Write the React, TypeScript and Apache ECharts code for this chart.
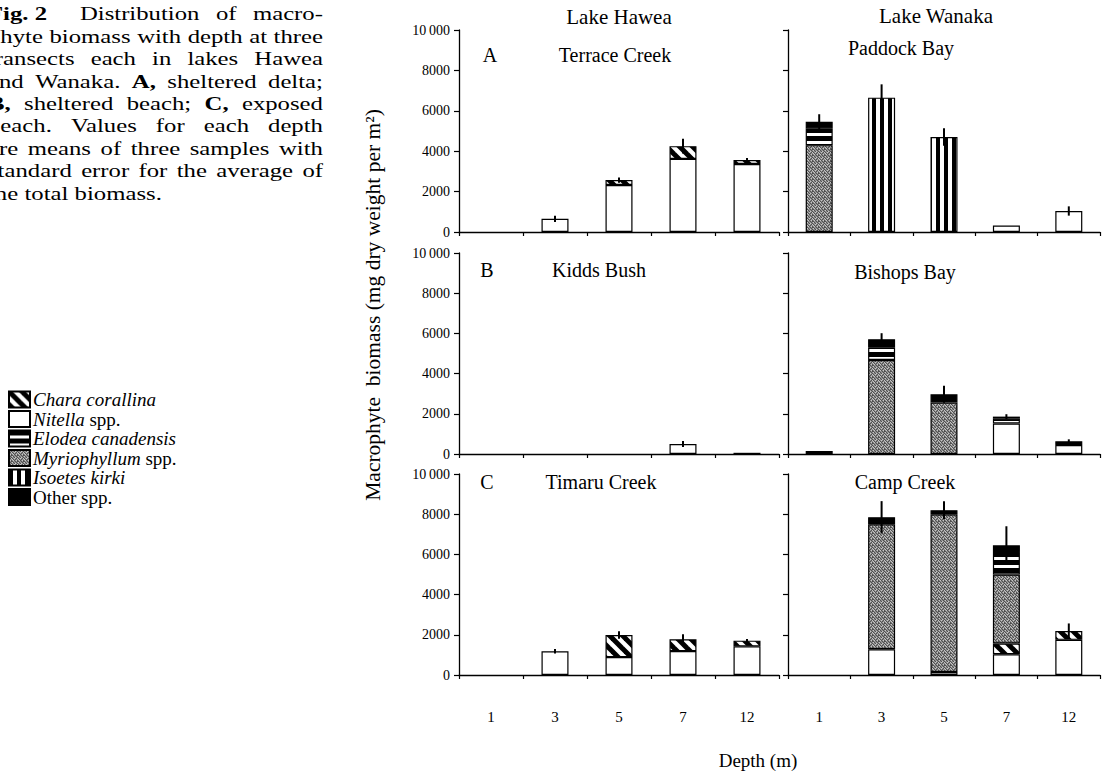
import React, { useEffect, useRef } from "react";
import * as echarts from "echarts";

// ---------- data ----------
const DEPTHS = ["1", "3", "5", "7", "12"];
const Y_MIN = 0;
const Y_MAX = 10000;
const Y_INTERVAL = 2000;

const LAKES = ["Lake Hawea", "Lake Wanaka"];
const PANEL_LETTERS = ["A", "B", "C"];
const SITES = ["Terrace Creek", "Paddock Bay", "Kidds Bush", "Bishops Bay", "Timaru Creek", "Camp Creek"];

const SPECIES = ["Chara corallina", "Nitella spp.", "Elodea canadensis", "Myriophyllum spp.", "Isoetes kirki", "Other spp."];
// stacking order, bottom to top (indices into SPECIES)
const STACK_ORDER = [1, 0, 3, 2, 4, 5];

const NONE = [0, 0, 0, 0, 0];

// Lake Hawea – A, Terrace Creek
const terraceNitella = [0, 650, 2330, 3620, 3370];
const terraceChara = [0, 0, 240, 630, 190];
const terraceSE = [0, 150, 130, 370, 100];
// Lake Wanaka – Paddock Bay
const paddockNitella = [0, 0, 0, 320, 1040];
const paddockMyrio = [4300, 0, 0, 0, 0];
const paddockElodea = [830, 0, 0, 0, 0];
const paddockIsoetes = [0, 6650, 4700, 0, 0];
const paddockOther = [330, 0, 0, 0, 0];
const paddockSE = [370, 660, 430, 0, 230];
// Lake Hawea – B, Kidds Bush
const kiddsNitella = [0, 0, 0, 500, 60];
const kiddsSE = [0, 0, 0, 150, 0];
// Lake Wanaka – Bishops Bay
const bishopsNitella = [0, 0, 0, 1520, 450];
const bishopsMyrio = [0, 4680, 2560, 0, 0];
const bishopsElodea = [0, 630, 0, 240, 180];
const bishopsOther = [150, 400, 410, 100, 0];
const bishopsSE = [0, 300, 420, 120, 100];
// Lake Hawea – C, Timaru Creek
const timaruNitella = [0, 1180, 890, 1190, 1425];
const timaruChara = [0, 0, 1100, 585, 285];
const timaruSE = [0, 110, 185, 250, 80];
// Lake Wanaka – Camp Creek
const campNitella = [0, 1280, 150, 1035, 1750];
const campChara = [0, 0, 0, 530, 435];
const campMyrio = [0, 6220, 7850, 3435, 0];
const campElodea = [0, 0, 0, 1115, 0];
const campOther = [0, 350, 200, 335, 0];
const campSE = [0, 800, 450, 950, 380];

// per panel: [Chara, Nitella, Elodea, Myriophyllum, Isoetes, Other], se
const PANELS = [
  { layers: [terraceChara, terraceNitella, NONE, NONE, NONE, NONE], se: terraceSE },
  { layers: [NONE, paddockNitella, paddockElodea, paddockMyrio, paddockIsoetes, paddockOther], se: paddockSE },
  { layers: [NONE, kiddsNitella, NONE, NONE, NONE, NONE], se: kiddsSE },
  { layers: [NONE, bishopsNitella, bishopsElodea, bishopsMyrio, NONE, bishopsOther], se: bishopsSE },
  { layers: [timaruChara, timaruNitella, NONE, NONE, NONE, NONE], se: timaruSE },
  { layers: [campChara, campNitella, campElodea, campMyrio, NONE, campOther], se: campSE },
];

const CAPTION_LINES = [
  "Fig.\u00a02 Distribution of macro-",
  "phyte biomass with depth at three",
  "transects each in lakes Hawea",
  "and Wanaka. A, sheltered delta;",
  "B, sheltered beach; C, exposed",
  "beach. Values for each depth",
  "are means of three samples with",
  "standard error for the average of",
  "the total biomass.",
];
const CAPTION_BOLD = ["Fig.\u00a02", "A,", "B,", "C,"];

// ---------- styling ----------
const FONT = '"Liberation Serif", "Times New Roman", serif';
const GRID_LEFT = [459, 788];
const GRID_WIDTH = [320, 312];
const GRID_TOP = [30, 253, 474];
const GRID_HEIGHT = [202, 201, 201];

function tile(w: number, h: number, draw: (g: CanvasRenderingContext2D) => void) {
  const c = document.createElement("canvas");
  c.width = w;
  c.height = h;
  const g = c.getContext("2d")!;
  draw(g);
  return { image: c.toDataURL(), repeat: "repeat", imageWidth: w, imageHeight: h };
}

function makePatterns() {
  const chara = tile(13, 13, (g) => {
    g.fillStyle = "#fff";
    g.fillRect(0, 0, 13, 13);
    g.strokeStyle = "#000";
    g.lineWidth = 5;
    for (const o of [-13, 0, 13]) {
      g.beginPath();
      g.moveTo(o - 2, -2);
      g.lineTo(o + 15, 15);
      g.stroke();
    }
  });
  const elodea = tile(4, 8, (g) => {
    g.fillStyle = "#fff";
    g.fillRect(0, 0, 4, 8);
    g.fillStyle = "#000";
    g.fillRect(0, 0, 4, 5);
  });
  const isoetes = tile(8, 4, (g) => {
    g.fillStyle = "#fff";
    g.fillRect(0, 0, 8, 4);
    g.fillStyle = "#000";
    g.fillRect(0, 0, 4, 4);
  });
  const STIP = [
    [0, 1, 0, 2, 1, 0],
    [2, 0, 1, 0, 0, 1],
    [0, 1, 2, 1, 0, 2],
    [1, 0, 0, 2, 1, 0],
    [0, 2, 1, 0, 2, 1],
    [1, 0, 1, 1, 0, 0],
  ];
  const shades = ["#8f8f8f", "#505050", "#c6c6c6"];
  const myrio = tile(6, 6, (g) => {
    for (let y = 0; y < 6; y++)
      for (let x = 0; x < 6; x++) {
        g.fillStyle = shades[STIP[y][x]];
        g.fillRect(x, y, 1, 1);
      }
  });
  return [chara, "#ffffff", elodea, myrio, isoetes, "#000000"];
}

function buildCaption() {
  const CAP_SIZE = 19;
  const CAP_X = -12;
  const CAP_RIGHT = 323;
  const CAP_Y0 = 14;
  const CAP_DY = 22.4;
  const ctx = document.createElement("canvas").getContext("2d")!;
  const measure = (t: string, bold: boolean) => {
    ctx.font = `${bold ? "bold " : ""}${CAP_SIZE}px "Liberation Serif"`;
    return ctx.measureText(t).width;
  };
  const spaceW = measure(" ", false);
  const lines = CAPTION_LINES.map((l) =>
    l.split(" ").map((w) => {
      const bold = CAPTION_BOLD.includes(w);
      return { w, bold, width: measure(w, bold) };
    })
  );
  const W = CAP_RIGHT - CAP_X;
  const natural = lines.map((ws) => ws.reduce((s, t) => s + t.width, 0) + spaceW * (ws.length - 1));
  const sx = Math.min(...natural.slice(1, -1).map((n) => W / n)) * 0.995;
  const localW = W / sx;
  const children: any[] = [];
  lines.forEach((ws, i) => {
    const last = i === lines.length - 1;
    const sum = ws.reduce((s, t) => s + t.width, 0);
    const n = ws.length - 1;
    // heading line: the gap after "Fig. 2" counts double
    const weights = ws.map((_, j) => (i === 0 && j === 0 ? 2 : 1)).slice(0, Math.max(n, 0));
    const wsum = weights.reduce((a, b) => a + b, 0) || 1;
    const unit = (localW - sum) / wsum;
    let x = 0;
    ws.forEach((t, j) => {
      children.push({
        type: "text",
        x,
        y: CAP_Y0 + i * CAP_DY,
        silent: true,
        style: {
          text: t.w,
          fontFamily: FONT,
          fontSize: CAP_SIZE,
          fontWeight: t.bold ? "bold" : "normal",
          fill: "#000",
          verticalAlign: "middle",
          textVerticalAlign: "middle",
        },
      });
      x += t.width + (last ? spaceW : unit * (weights[j] || 0));
    });
  });
  return { type: "group", x: CAP_X, y: 0, scaleX: sx, scaleY: 1, children };
}

function txt(text: string, x: number, y: number, size: number, extra: any = {}) {
  return {
    type: "text",
    x,
    y,
    silent: true,
    ...extra,
    style: {
      text,
      fontFamily: FONT,
      fontSize: size,
      fill: "#000",
      align: "center",
      textAlign: "center",
      verticalAlign: "middle",
      textVerticalAlign: "middle",
    },
  };
}

function buildOption() {
  const patterns = makePatterns();
  const grids: any[] = [];
  const xAxes: any[] = [];
  const yAxes: any[] = [];
  const series: any[] = [];
  const axisLine = { show: true, lineStyle: { color: "#000", width: 1.3 } };

  PANELS.forEach((panel, p) => {
    const row = Math.floor(p / 2);
    const col = p % 2;
    grids.push({ left: GRID_LEFT[col], width: GRID_WIDTH[col], top: GRID_TOP[row], height: GRID_HEIGHT[row] });
    xAxes.push({
      gridIndex: p,
      type: "category",
      data: DEPTHS,
      axisLine,
      axisTick: { show: true, length: 4, lineStyle: { color: "#000", width: 1.2 } },
      axisLabel: { show: row === 2, margin: 34, fontFamily: FONT, fontSize: 15, color: "#000" },
      splitLine: { show: false },
    });
    yAxes.push({
      gridIndex: p,
      type: "value",
      min: Y_MIN,
      max: Y_MAX,
      interval: Y_INTERVAL,
      axisLine,
      axisTick: { show: true, length: 5, lineStyle: { color: "#000", width: 1.2 } },
      axisLabel: {
        show: col === 0,
        margin: 9,
        fontFamily: FONT,
        fontSize: 14,
        color: "#000",
        formatter: (v: number) => (v === 10000 ? "10\u2009000" : String(v)),
      },
      splitLine: { show: false },
    });
    STACK_ORDER.forEach((s) => {
      series.push({
        type: "bar",
        name: SPECIES[s],
        xAxisIndex: p,
        yAxisIndex: p,
        stack: "panel" + p,
        barWidth: 27,
        silent: true,
        data: panel.layers[s].map((v) => (v > 0 ? v : null)),
        itemStyle: { color: patterns[s], borderColor: "#000", borderWidth: 1.2 },
        emphasis: { disabled: true },
      });
    });
    const totals = DEPTHS.map((_, i) => panel.layers.reduce((sum, arr) => sum + arr[i], 0));
    series.push({
      type: "custom",
      xAxisIndex: p,
      yAxisIndex: p,
      silent: true,
      z: 5,
      data: totals.map((t, i) => [i, t, panel.se[i]]).filter((d) => d[2] > 0),
      renderItem: (_params: any, api: any) => {
        const i = api.value(0);
        const t = api.value(1);
        const se = api.value(2);
        const x = api.coord([i, 0])[0];
        const y1 = api.coord([i, t + se])[1];
        const y2 = api.coord([i, Math.max(0, t - se)])[1];
        return {
          type: "line",
          shape: { x1: x, y1, x2: x, y2 },
          style: { stroke: "#000", lineWidth: 2 },
        };
      },
    });
  });

  const italic = { fontFamily: FONT, fontSize: 19, fontStyle: "italic", color: "#000" };
  const normal = { fontFamily: FONT, fontSize: 19, color: "#000" };
  const legendFormat: Record<string, string> = {
    "Chara corallina": "{i|Chara corallina}",
    "Nitella spp.": "{i|Nitella}{n| spp.}",
    "Elodea canadensis": "{i|Elodea canadensis}",
    "Myriophyllum spp.": "{i|Myriophyllum}{n| spp.}",
    "Isoetes kirki": "{i|Isoetes kirki}",
    "Other spp.": "{n|Other spp.}",
  };

  const graphic: any[] = [
    buildCaption(),
    txt(LAKES[0], 619, 17, 21),
    txt(LAKES[1], 936, 16, 21),
    txt(PANEL_LETTERS[0], 490, 55, 20),
    txt(SITES[0], 615, 55, 20),
    txt(SITES[1], 901, 48, 20),
    txt(PANEL_LETTERS[1], 487, 270, 20),
    txt(SITES[2], 599, 270, 20),
    txt(SITES[3], 905, 272, 20),
    txt(PANEL_LETTERS[2], 487, 482, 20),
    txt(SITES[4], 601, 482, 20),
    txt(SITES[5], 905, 482, 20),
    txt("Depth (m)", 758, 760, 19),
    txt("Macrophyte  biomass (mg dry weight per m\u00b2)", 373, 305, 21.5, { rotation: Math.PI / 2 }),
  ];

  return {
    animation: false,
    backgroundColor: "#ffffff",
    grid: grids,
    xAxis: xAxes,
    yAxis: yAxes,
    series,
    legend: {
      data: SPECIES,
      orient: "vertical",
      left: 8,
      top: 390,
      padding: 0,
      itemWidth: 21,
      itemHeight: 16,
      itemGap: 0.5,
      icon: "rect",
      selectedMode: false,
      formatter: (name: string) => legendFormat[name] || name,
      textStyle: { ...normal, padding: [0, 0, 0, -2], rich: { i: italic, n: normal } },
    },
    graphic,
  };
}

export default function App() {
  const ref = useRef<HTMLDivElement>(null);
  useEffect(() => {
    if (!ref.current) return;
    const chart = echarts.init(ref.current, null, { renderer: "svg" });
    chart.setOption(buildOption() as any);
    return () => chart.dispose();
  }, []);
  return (
    <div
      ref={ref}
      style={{ position: "fixed", left: 0, top: 0, width: 1108, height: 775, background: "#fff" }}
    />
  );
}
